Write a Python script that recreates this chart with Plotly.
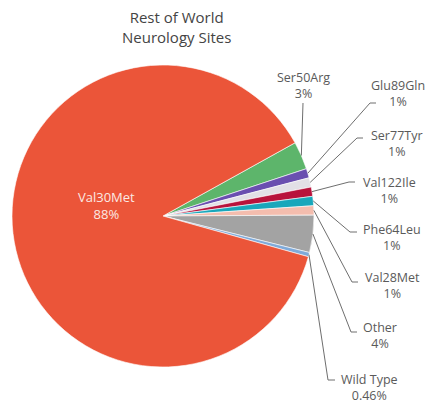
import math
import plotly.graph_objects as go

# Slice data, listed clockwise from the start angle
labels = ["Ser50Arg", "Glu89Gln", "Ser77Tyr", "Val122Ile", "Phe64Leu",
          "Val28Met", "Other", "Wild Type", "Val30Met"]
values = [3, 1, 1, 1, 1, 1, 4, 0.46, 88]
colors = ["#5DB56B", "#6A4FB0", "#E2E0E6", "#B8133C", "#19A7BB",
          "#F4BDAE", "#A3A3A3", "#7FAAD9", "#EB5539"]

W, H = 431, 408
CX, CY, R = 163, 216, 151          # pie centre / radius in pixels
ROTATION = 61                      # start angle, degrees clockwise from 12 o'clock

# label placement for the outside labels: (text x, text y, elbow x, elbow y, end x)
outside = {
    "Ser50Arg":  (303, 85, 303, 103, 303),
    "Glu89Gln":  (398, 94, 370, 103, 376),
    "Ser77Tyr":  (397, 143, 357, 138, 363),
    "Val122Ile": (389, 190, 349, 182, 355),
    "Phe64Leu":  (392, 237, 350, 232, 357),
    "Val28Met":  (392, 285, 352, 282, 358),
    "Other":     (380, 335, 351, 332, 357),
    "Wild Type": (369, 387, 328, 380, 335),
}

FONT = "Open Sans"
TXT = "#5a5a5a"


def px(x):
    return x / W


def py(y):
    return 1 - y / H


fig = go.Figure(go.Pie(
    labels=labels,
    values=values,
    sort=False,
    direction="clockwise",
    rotation=ROTATION,
    marker=dict(colors=colors, line=dict(color="white", width=0.6)),
    textinfo="none",
    hoverinfo="label+value",
    showlegend=False,
    domain=dict(x=[px(CX - R), px(CX + R)], y=[py(CY + R), py(CY - R)]),
))

annotations = []
shapes = []
total = sum(values)
acc = 0.0
for name, v in zip(labels, values):
    mid = ROTATION + (acc + v / 2) / total * 360
    acc += v
    text = f"{name}<br>{v:g}%"
    if name in outside:
        tx, ty, ex, ey, endx = outside[name]
        sx = CX + R * math.sin(math.radians(mid))
        sy = CY - R * math.cos(math.radians(mid))
        path = f"M {px(sx)} {py(sy)} L {px(ex)} {py(ey)} L {px(endx)} {py(ey)}"
        shapes.append(dict(type="path", xref="paper", yref="paper", path=path,
                           line=dict(color="#6e6e6e", width=1)))
        annotations.append(dict(x=px(tx), y=py(ty), xref="paper", yref="paper",
                                text=text, showarrow=False, xanchor="center",
                                yanchor="middle",
                                font=dict(family=FONT, size=12.5, color=TXT)))
    else:
        annotations.append(dict(x=px(106), y=py(205), xref="paper", yref="paper",
                                text=text, showarrow=False, xanchor="center",
                                yanchor="middle",
                                font=dict(family=FONT, size=13, color="#fbe9e4")))

annotations.append(dict(x=px(176), y=py(27), xref="paper", yref="paper",
                        text="Rest of World<br>Neurology Sites", showarrow=False,
                        xanchor="center", yanchor="middle",
                        font=dict(family=FONT, size=15, color="#444444")))

fig.update_layout(
    width=W, height=H,
    margin=dict(l=0, r=0, t=0, b=0),
    paper_bgcolor="white",
    plot_bgcolor="white",
    annotations=annotations,
    shapes=shapes,
)

fig.write_html("out.html")
